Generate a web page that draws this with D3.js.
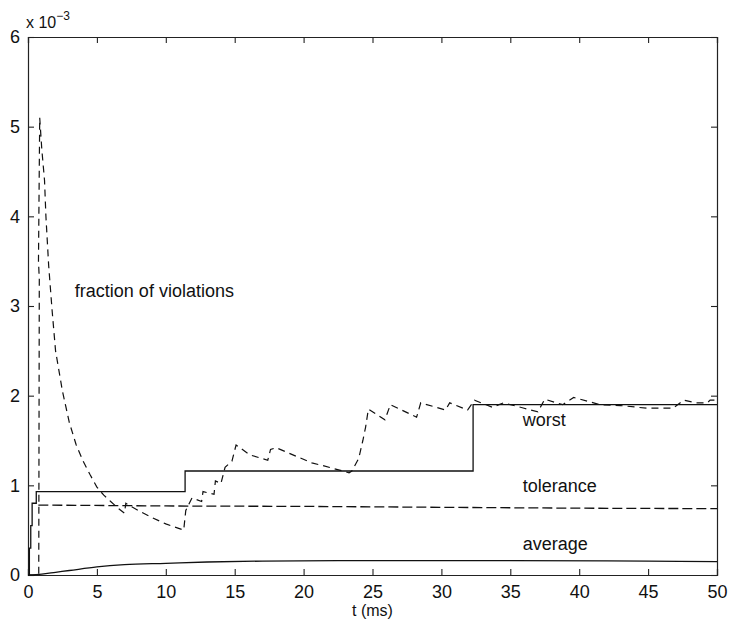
<!DOCTYPE html>
<html>
<head>
<meta charset="utf-8">
<script src="https://cdn.jsdelivr.net/npm/d3@7"></script>
<style>
  body { margin: 0; background: #fff; }
  text { font-family: "Liberation Sans", Arial, sans-serif; fill: #111; }
</style>
</head>
<body>
<div id="chart"></div>
<script>
// values in units of 1e-3
const worstT = [0, 0.1, 0.1, 0.2, 0.2, 0.3, 0.3, 0.6, 0.6, 11.4, 11.4, 32.3, 32.3, 50];
const worstV = [0, 0, 0.3, 0.3, 0.55, 0.55, 0.8, 0.8, 0.93, 0.93, 1.16, 1.16, 1.9, 1.9];

const tolT = [0.75, 10, 20, 30, 40, 50];
const tolV = [0.78, 0.77, 0.765, 0.755, 0.745, 0.74];

const avgT = [0, 1, 2, 3, 5, 7, 10, 13, 17, 25, 35, 45, 50];
const avgV = [0, 0.01, 0.03, 0.05, 0.09, 0.115, 0.13, 0.145, 0.155, 0.16, 0.16, 0.155, 0.15];

const fracT = [0, 0.78, 0.82, 0.76, 0.85, 1.0, 1.2, 1.3, 1.5, 1.75, 2.0, 2.5, 3.0, 3.5, 4.0, 4.5, 5.0, 5.5, 6.0, 6.5, 7.0,
  7.1, 8, 9, 10, 11.3, 11.45, 11.9, 12.6, 12.7, 13.5, 13.6, 14.0, 14.3, 14.8, 15.1, 16.1, 17.4, 17.6, 18.0, 20.6, 21.4,
  23.3, 23.5, 24.0, 24.3, 24.5, 24.7, 25.9, 26.3, 28.2, 28.5, 30.3, 30.6, 31.9, 32.4, 33.7, 34.5, 36.0, 37.0, 37.5,
  38.8, 39.6, 41.5, 43, 44.9, 46.8, 47.6, 48.5, 49.3, 49.5, 50];
const fracV = [0, 0, 3.3, 3.5, 5.1, 4.75, 4.4, 4.0, 3.45, 2.95, 2.5, 2.05, 1.7, 1.45, 1.27, 1.12, 0.98, 0.89, 0.82, 0.75, 0.69,
  0.8, 0.72, 0.64, 0.57, 0.5, 0.72, 0.86, 0.82, 0.93, 0.9, 1.05, 1.02, 1.2, 1.27, 1.45, 1.34, 1.28, 1.4, 1.42, 1.25, 1.22,
  1.14, 1.16, 1.3, 1.5, 1.65, 1.85, 1.73, 1.9, 1.76, 1.92, 1.84, 1.92, 1.84, 1.95, 1.87, 1.92, 1.86, 1.82, 1.96,
  1.9, 1.98, 1.9, 1.89, 1.86, 1.86, 1.95, 1.92, 1.92, 1.95, 1.95];

const xTicks = [0, 5, 10, 15, 20, 25, 30, 35, 40, 45, 50];
const yTicks = [0, 1, 2, 3, 4, 5, 6];

const labels = [
  {text: "fraction of violations", t: 3.4, v: 3.1},
  {text: "worst", t: 35.9, v: 1.66},
  {text: "tolerance", t: 35.9, v: 0.93},
  {text: "average", t: 35.9, v: 0.28}
];

const W = 729, H = 624;
const margin = {left: 28, right: 12, top: 37, bottom: 49};

const svg = d3.select("#chart").append("svg")
  .attr("width", W)
  .attr("height", H);

const x = d3.scaleLinear().domain([0, 50]).range([margin.left, W - margin.right]);
const y = d3.scaleLinear().domain([0, 6]).range([H - margin.bottom, margin.top]);

const line = d3.line()
  .x(function(d) { return x(d[0]); })
  .y(function(d) { return y(d[1]); });

function zip(a, b) {
  return a.map(function(v, i) { return [v, b[i]]; });
}

// Axes, matlab style: ticks inside on all four sides
const tickLen = 6;
svg.append("g")
  .attr("transform", "translate(0," + y(0) + ")")
  .call(d3.axisBottom(x).tickValues(xTicks).tickSize(-tickLen).tickPadding(10).tickFormat(d3.format("d")));
svg.append("g")
  .attr("transform", "translate(0," + y(6) + ")")
  .call(d3.axisTop(x).tickValues(xTicks).tickSize(-tickLen).tickFormat(""));
svg.append("g")
  .attr("transform", "translate(" + x(0) + ",0)")
  .call(d3.axisLeft(y).tickValues(yTicks).tickSize(-tickLen).tickPadding(8).tickFormat(d3.format("d")));
svg.append("g")
  .attr("transform", "translate(" + x(50) + ",0)")
  .call(d3.axisRight(y).tickValues(yTicks).tickSize(-tickLen).tickFormat(""));

svg.selectAll(".domain")
  .attr("stroke", "#222")
  .attr("stroke-width", 1.2);
svg.selectAll(".tick line")
  .attr("stroke", "#222")
  .attr("stroke-width", 1.1);
svg.selectAll(".tick text")
  .attr("font-size", 18)
  .attr("fill", "#111")
  .style("font-family", "Liberation Sans, Arial, sans-serif");

// exponent label
const expo = svg.append("text")
  .attr("x", x(0) - 2)
  .attr("y", 28)
  .attr("font-size", 16);
expo.append("tspan").text("x 10");
expo.append("tspan").attr("dy", -8).attr("font-size", 12).text("\u22123");

// series
svg.append("path")
  .datum(zip(worstT, worstV))
  .attr("d", line)
  .attr("fill", "none")
  .attr("stroke", "#111")
  .attr("stroke-width", 1.3);

svg.append("path")
  .datum(zip(avgT, avgV))
  .attr("d", line.curve(d3.curveMonotoneX))
  .attr("fill", "none")
  .attr("stroke", "#111")
  .attr("stroke-width", 1.3);
line.curve(d3.curveLinear);

svg.append("path")
  .datum(zip(tolT, tolV))
  .attr("d", line)
  .attr("fill", "none")
  .attr("stroke", "#111")
  .attr("stroke-width", 1.3)
  .attr("stroke-dasharray", "10,4");

svg.append("path")
  .datum(zip(fracT, fracV))
  .attr("d", line)
  .attr("fill", "none")
  .attr("stroke", "#111")
  .attr("stroke-width", 1.2)
  .attr("stroke-dasharray", "7,5");

// annotations
svg.append("g")
  .selectAll("text")
  .data(labels)
  .enter()
  .append("text")
  .attr("x", function(d) { return x(d.t); })
  .attr("y", function(d) { return y(d.v); })
  .attr("font-size", 18)
  .text(function(d) { return d.text; });

// x label
svg.append("text")
  .attr("x", (x(0) + x(50)) / 2)
  .attr("y", 616)
  .attr("text-anchor", "middle")
  .attr("font-size", 16)
  .text("t (ms)");
</script>
</body>
</html>
